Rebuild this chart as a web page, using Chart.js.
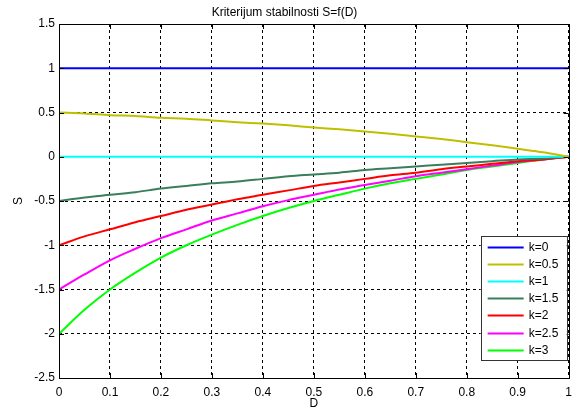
<!DOCTYPE html>
<html>
<head>
<meta charset="utf-8">
<title>Kriterijum stabilnosti</title>
<script src="https://cdn.jsdelivr.net/npm/chart.js@4.4.0/dist/chart.umd.min.js"></script>
<style>
html, body { margin: 0; padding: 0; background: #fff; }
#wrap { width: 579px; height: 414px; position: relative; }
</style>
</head>
<body>
<div id="wrap"><canvas id="stabChart"></canvas></div>
<script>
// D values along the x axis
const dValues = [0, 0.05, 0.1, 0.15, 0.2, 0.25, 0.3, 0.35, 0.4, 0.45, 0.5,
                 0.55, 0.6, 0.65, 0.7, 0.75, 0.8, 0.85, 0.9, 0.95, 1];

// S values, one array per k
const sK0   = [1, 1, 1, 1, 1, 1, 1, 1, 1, 1, 1, 1, 1, 1, 1, 1, 1, 1, 1, 1, 1];
const sK05  = [0.50, 0.49, 0.47, 0.46, 0.44, 0.43, 0.41, 0.39, 0.375, 0.355, 0.33,
               0.31, 0.285, 0.26, 0.23, 0.20, 0.165, 0.13, 0.09, 0.05, 0];
const sK1   = [0, 0, 0, 0, 0, 0, 0, 0, 0, 0, 0, 0, 0, 0, 0, 0, 0, 0, 0, 0, 0];
const sK15  = [-0.50, -0.46, -0.43, -0.40, -0.36, -0.33, -0.30, -0.28, -0.25, -0.22, -0.20,
               -0.18, -0.15, -0.13, -0.11, -0.09, -0.07, -0.05, -0.03, -0.02, 0];
const sK2   = [-1.00, -0.90, -0.82, -0.74, -0.67, -0.60, -0.54, -0.48, -0.43, -0.38, -0.33,
               -0.29, -0.25, -0.21, -0.18, -0.14, -0.11, -0.08, -0.05, -0.03, 0];
const sK25  = [-1.50, -1.33, -1.17, -1.04, -0.92, -0.82, -0.72, -0.64, -0.56, -0.49, -0.43,
               -0.37, -0.32, -0.27, -0.22, -0.18, -0.14, -0.10, -0.06, -0.03, 0];
const sK3   = [-2.00, -1.73, -1.50, -1.31, -1.14, -1.00, -0.88, -0.77, -0.67, -0.58, -0.50,
               -0.43, -0.36, -0.30, -0.25, -0.20, -0.15, -0.11, -0.07, -0.03, 0];

const seriesLabels = ['k=0', 'k=0.5', 'k=1', 'k=1.5', 'k=2', 'k=2.5', 'k=3'];
const seriesValues = [sK0, sK05, sK1, sK15, sK2, sK25, sK3];

const xTicks = [0, 0.1, 0.2, 0.3, 0.4, 0.5, 0.6, 0.7, 0.8, 0.9, 1];
const yTicks = [-2.5, -2, -1.5, -1, -0.5, 0, 0.5, 1, 1.5];

const lineColors = ['#0000ff', '#bfbf00', '#00ffff', '#3a7f5c', '#ff0000', '#ff00ff', '#00ff00'];
const FONT = "'Liberation Sans', Arial, Helvetica, sans-serif";

// MATLAB-like box around the axes with inward tick marks
const axesFrame = {
    id: 'axesFrame',
    afterDatasetsDraw(chart) {
        const { ctx, chartArea: a, scales } = chart;
        ctx.save();
        ctx.strokeStyle = '#000';
        ctx.lineWidth = 1;
        ctx.strokeRect(Math.round(a.left) + 0.5, Math.round(a.top) + 0.5,
                       Math.round(a.right - a.left), Math.round(a.bottom - a.top));
        ctx.beginPath();
        xTicks.forEach(v => {
            const px = Math.round(scales.x.getPixelForValue(v)) + 0.5;
            ctx.moveTo(px, a.bottom); ctx.lineTo(px, a.bottom - 5);
            ctx.moveTo(px, a.top); ctx.lineTo(px, a.top + 5);
        });
        yTicks.forEach(v => {
            const py = Math.round(scales.y.getPixelForValue(v)) + 0.5;
            ctx.moveTo(a.left, py); ctx.lineTo(a.left + 5, py);
            ctx.moveTo(a.right, py); ctx.lineTo(a.right - 5, py);
        });
        ctx.stroke();
        ctx.restore();
    }
};

// legend box inside the lower right corner
const boxLegend = {
    id: 'boxLegend',
    afterDraw(chart) {
        const { ctx, chartArea: a } = chart;
        const w = 86, h = 124;
        const left = a.right - 2 - w;
        const top = a.bottom - 18 - h;
        ctx.save();
        ctx.fillStyle = '#fff';
        ctx.fillRect(left, top, w, h);
        ctx.strokeStyle = '#333';
        ctx.lineWidth = 1;
        ctx.strokeRect(Math.round(left) + 0.5, Math.round(top) + 0.5, w, h);
        ctx.font = '12px ' + FONT;
        ctx.textBaseline = 'middle';
        chart.data.datasets.forEach((ds, i) => {
            const y = Math.round(top + 10.5 + i * 17.2) + 0.5;
            ctx.strokeStyle = ds.borderColor;
            ctx.lineWidth = 2;
            ctx.beginPath();
            ctx.moveTo(left + 7, y);
            ctx.lineTo(left + 43, y);
            ctx.stroke();
            ctx.fillStyle = '#000';
            ctx.fillText(ds.label, left + 48, y);
        });
        ctx.restore();
    }
};

const datasets = seriesLabels.map((label, i) => ({
    label: label,
    data: dValues.map((d, j) => ({ x: d, y: seriesValues[i][j] })),
    borderColor: lineColors[i],
    backgroundColor: lineColors[i],
    borderWidth: 2,
    pointRadius: 0,
    fill: false,
    cubicInterpolationMode: 'monotone'
}));

new Chart(document.getElementById('stabChart'), {
    type: 'line',
    data: { datasets: datasets },
    options: {
        responsive: true,
        maintainAspectRatio: false,
        animation: false,
        layout: { padding: { left: 0, right: 10, top: 0, bottom: 0 } },
        plugins: {
            legend: { display: false },
            tooltip: { enabled: false },
            title: {
                display: true,
                text: 'Kriterijum stabilnosti S=f(D)',
                color: '#000',
                font: { family: FONT, size: 12, weight: 'normal' },
                padding: { top: 5, bottom: 4.6 }
            }
        },
        scales: {
            x: {
                type: 'linear',
                min: 0,
                max: 1,
                afterBuildTicks: s => { s.ticks = xTicks.map(v => ({ value: v })); },
                afterFit: s => { s.height = 36; },
                ticks: {
                    color: '#000',
                    padding: 7,
                    maxRotation: 0,
                    font: { family: FONT, size: 12 },
                    callback: v => String(v)
                },
                grid: { color: '#000', lineWidth: 1, drawTicks: false },
                border: { display: false, dash: [3, 3] },
                title: {
                    display: true,
                    text: 'D',
                    color: '#000',
                    font: { family: FONT, size: 12 },
                    padding: { top: 0, bottom: 3 }
                }
            },
            y: {
                type: 'linear',
                min: -2.5,
                max: 1.5,
                afterBuildTicks: s => { s.ticks = yTicks.map(v => ({ value: v })); },
                afterFit: s => { s.width = 59; },
                ticks: {
                    color: '#000',
                    padding: 4,
                    font: { family: FONT, size: 12 },
                    callback: v => String(v)
                },
                grid: { color: '#000', lineWidth: 1, drawTicks: false },
                border: { display: false, dash: [3, 3] },
                title: {
                    display: true,
                    text: 'S',
                    color: '#000',
                    font: { family: FONT, size: 12 },
                    padding: { top: 11, bottom: 0 }
                }
            }
        }
    },
    plugins: [axesFrame, boxLegend]
});
</script>
</body>
</html>
